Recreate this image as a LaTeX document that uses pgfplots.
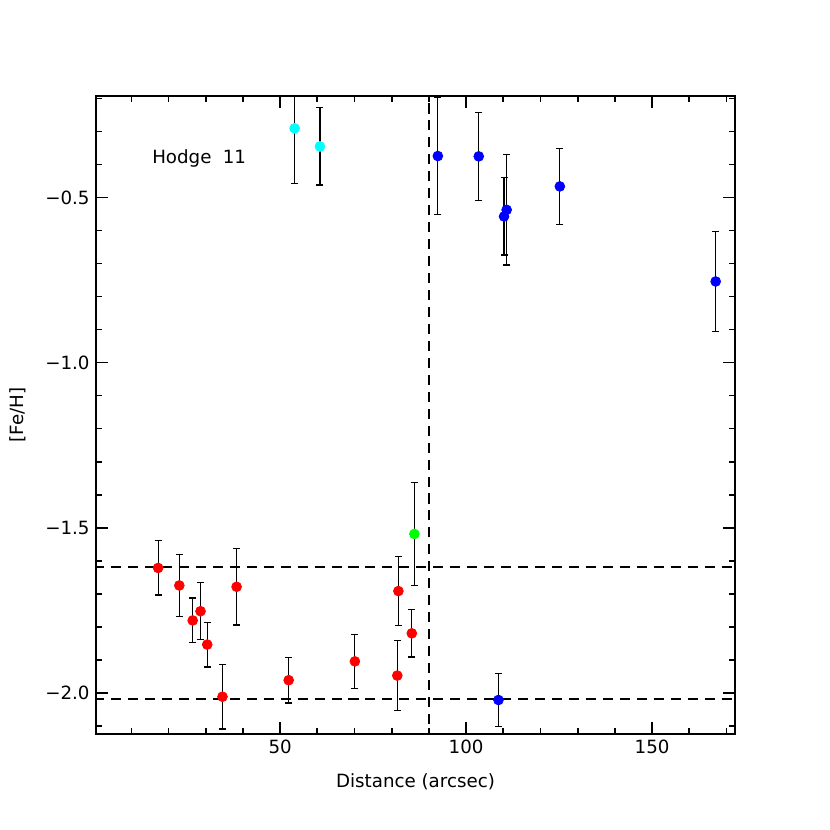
\documentclass[border=0pt]{standalone}
\usepackage{fontspec}
\setmainfont{DejaVu Sans}
\usepackage{pgfplots}
\pgfplotsset{compat=1.18}
\definecolor{idlred}{RGB}{255,0,0}
\definecolor{idlgreen}{RGB}{0,255,0}
\definecolor{idlcyan}{RGB}{0,255,255}
\definecolor{idlblue}{RGB}{0,0,255}
\begin{document}
\begin{tikzpicture}
\useasboundingbox (-1.8506cm,-1.8506cm) rectangle (14.149cm,14.149cm);
\begin{axis}[
 at={(0,0)}, anchor=south west,
 scale only axis, width=12.318cm, height=12.299cm,
 xmin=0.5, xmax=172.3, ymin=-2.125, ymax=-0.192,
 xtick={50,100,150}, ytick={-2,-1.5,-1,-0.5},
 yticklabels={−2.0,−1.5,−1.0,−0.5},
 minor xtick={10,20,30,40,60,70,80,90,110,120,130,140,160,170},
 minor ytick={-2.1,-1.9,-1.8,-1.7,-1.6,-1.4,-1.3,-1.2,-1.1,-0.9,-0.8,-0.7,-0.6,-0.4,-0.3,-0.2},
 tick align=inside, xtick pos=both, ytick pos=both,
 xticklabel pos=lower, yticklabel pos=left,
 major tick length=0.24cm, minor tick length=0.125cm,
 every tick/.style={black, line width=0.9pt},
 axis line style={line width=1.1pt},
 /pgf/number format/assume math mode=true,
 ticklabel style={font=\fontsize{10}{12}\selectfont},
 label style={font=\fontsize{10}{12}\selectfont},
 xlabel={Distance (arcsec)}, ylabel={[Fe/H]},
 xlabel style={yshift=-4pt},
 ylabel style={yshift=4pt},
 error bars/y dir=both, error bars/y explicit,
 error bars/error bar style={black, line width=0.65pt},
 error bars/error mark options={black, line width=0.65pt, mark size=1.9pt, rotate=90},
]
\addplot[dashed, line width=1.1pt, dash pattern=on 5.5pt off 3.8pt] coordinates {(0,-1.62) (180,-1.62)};
\addplot[dashed, line width=1.1pt, dash pattern=on 5.5pt off 3.8pt] coordinates {(0,-2.02) (180,-2.02)};
\addplot[dashed, line width=1.1pt, dash pattern=on 5.5pt off 3.8pt] coordinates {(90,-2.3) (90,0)};
% red
\addplot[only marks, mark=*, mark size=2.7pt, mark options={draw=idlred, fill=idlred}, color=idlred]
 table[x=x, y=y, y error=e] {
x y e
17.2 -1.622 0.082
22.9 -1.675 0.095
26.5 -1.781 0.068
28.6 -1.753 0.086
30.4 -1.854 0.068
34.5 -2.012 0.098
38.3 -1.679 0.116
52.3 -1.962 0.069
70.1 -1.905 0.082
81.8 -1.692 0.105
81.5 -1.948 0.106
85.4 -1.820 0.072
};
% green
\addplot[only marks, mark=*, mark size=2.7pt, mark options={draw=idlgreen, fill=idlgreen}, color=idlgreen]
 table[x=x, y=y, y error=e] {
x y e
86.1 -1.519 0.157
};
% cyan
\addplot[only marks, mark=*, mark size=2.7pt, mark options={draw=idlcyan, fill=idlcyan}, color=idlcyan]
 table[x=x, y=y, y error=e] {
x y e
53.9 -0.290 0.167
60.7 -0.345 0.117
};
% blue
\addplot[only marks, mark=*, mark size=2.7pt, mark options={draw=idlblue, fill=idlblue}, color=idlblue]
 table[x=x, y=y, y error=e] {
x y e
92.4 -0.374 0.178
103.4 -0.375 0.133
110.2 -0.557 0.117
110.9 -0.537 0.167
125.2 -0.466 0.115
167.1 -0.754 0.151
108.7 -2.022 0.080
};
\node[anchor=west, font=\fontsize{10}{12}\selectfont] at (axis cs:13.9,-0.382) {Hodge\hspace{0.3em} 11};
\end{axis}
\end{tikzpicture}
\end{document}
